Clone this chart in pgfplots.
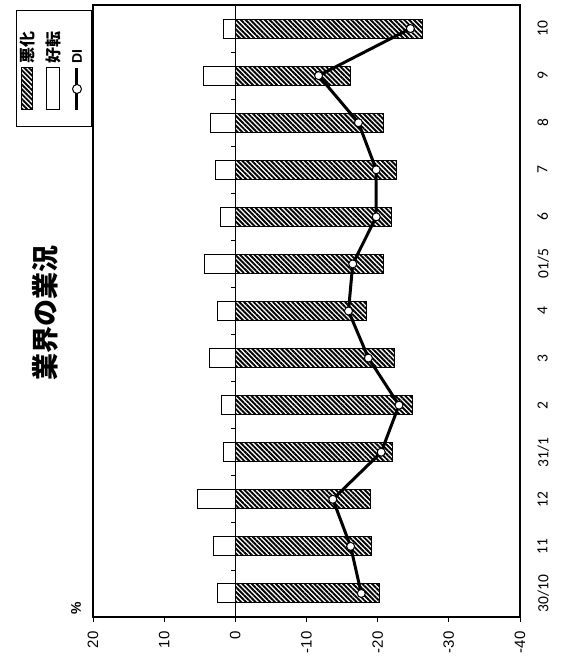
\documentclass[border=0pt]{standalone}
\usepackage{fontspec}
\setmainfont{Liberation Sans}
\newfontfamily\jp{Noto Sans CJK JP}
\newfontfamily\carl{Carlito}
\usepackage{pgfplots}
\pgfplotsset{compat=1.18}
\usepackage{pgfplotstable}
\usetikzlibrary{patterns.meta}

\pgfplotstableread{
idx kouten akka di
0 2.5 -20.2 -17.7
1 3.0 -19.2 -16.2
2 5.3 -19.0 -13.7
3 1.6 -22.1 -20.5
4 1.9 -24.9 -23.0
5 3.6 -22.3 -18.7
6 2.5 -18.4 -15.9
7 4.3 -20.8 -16.5
8 2.1 -21.9 -19.8
9 2.8 -22.6 -19.8
10 3.5 -20.8 -17.3
11 4.5 -16.2 -11.7
12 1.7 -26.3 -24.6
}\data

\tikzset{legtext/.style={rotate=90, anchor=west, inner sep=0pt, font=\jp\bfseries\fontsize{16bp}{16bp}\selectfont}}

\begin{document}
\begin{tikzpicture}
\begin{axis}[
  scale only axis, width=427bp, height=612bp,
  x dir=reverse, xmin=-40, xmax=20,
  ymin=-0.5, ymax=12.5,
  xtick={-40,-30,-20,-10,0,10,20},
  xticklabels={-40,-30,-20,-10,0,10,20},
  xtick pos=bottom, tick align=outside,
  major tick length=5bp,
  x tick style={black, line width=0.8bp},
  ytick={0,...,12},
  yticklabels={30/10,11,12,31/1,2,3,4,01/5,6,7,8,9,10},
  ytick pos=right, y tick style={draw=none},
  xticklabel style={yshift=-6bp, rotate=90, anchor=east, font=\fontsize{15bp}{15bp}\selectfont},
  yticklabel style={xshift=9bp, rotate=90, anchor=north, font=\carl\fontsize{15.5bp}{15.5bp}\selectfont},
  axis line style={black, line width=1.4bp},
  clip=false,
]
\addplot[xbar, bar width=19bp, bar shift=0pt, draw=black, line width=1bp,
  pattern={Lines[angle=-45,distance=3.4bp,line width=1.9bp]}, pattern color=black]
  table[x=akka,y=idx]{\data};
\addplot[xbar, bar width=19bp, bar shift=0pt, draw=black, fill=white, line width=1bp]
  table[x=kouten,y=idx]{\data};
\draw[black, line width=1.4bp] (axis cs:0,-0.5) -- (axis cs:0,12.5);
\draw[black, line width=0.8bp] (axis cs:0,0.5) -- (axis cs:0.56,0.5);
\draw[black, line width=0.8bp] (axis cs:0,1.5) -- (axis cs:0.56,1.5);
\draw[black, line width=0.8bp] (axis cs:0,2.5) -- (axis cs:0.56,2.5);
\draw[black, line width=0.8bp] (axis cs:0,3.5) -- (axis cs:0.56,3.5);
\draw[black, line width=0.8bp] (axis cs:0,4.5) -- (axis cs:0.56,4.5);
\draw[black, line width=0.8bp] (axis cs:0,5.5) -- (axis cs:0.56,5.5);
\draw[black, line width=0.8bp] (axis cs:0,6.5) -- (axis cs:0.56,6.5);
\draw[black, line width=0.8bp] (axis cs:0,7.5) -- (axis cs:0.56,7.5);
\draw[black, line width=0.8bp] (axis cs:0,8.5) -- (axis cs:0.56,8.5);
\draw[black, line width=0.8bp] (axis cs:0,9.5) -- (axis cs:0.56,9.5);
\draw[black, line width=0.8bp] (axis cs:0,10.5) -- (axis cs:0.56,10.5);
\draw[black, line width=0.8bp] (axis cs:0,11.5) -- (axis cs:0.56,11.5);
\addplot[black, line width=3bp, mark=*, mark size=4bp,
  mark options={fill=white, draw=black, line width=1bp}]
  table[x=di,y=idx]{\data};
\coordinate (bl) at (axis cs:20,-0.5);
\coordinate (tr) at (axis cs:-40,12.5);
\end{axis}
% legend (rotated, as in the reference)
\begin{scope}[shift={(bl)}]
  \draw[black, line width=0.8bp, fill=white] (-77bp,491bp) rectangle (-2bp,607bp);
  \draw[black, line width=1bp, pattern={Lines[angle=-45,distance=3.4bp,line width=1.9bp]}, pattern color=black]
    (-71bp,507bp) rectangle (-60bp,549bp);
  \node[legtext] at (-65.5bp,553bp) {悪化};
  \draw[black, line width=1bp, fill=white] (-46bp,507bp) rectangle (-33bp,549bp);
  \node[legtext] at (-39.5bp,553bp) {好転};
  \draw[black, line width=3bp] (-16bp,507bp) -- (-16bp,549bp);
  \draw[black, line width=1bp, fill=white] (-16bp,528bp) circle (4.5bp);
  \node[legtext, font=\fontsize{14bp}{14bp}\selectfont\bfseries] at (-16bp,553bp) {DI};
\end{scope}
\node[rotate=90, font=\jp\bfseries\fontsize{27bp}{27bp}\selectfont] at ([xshift=-48bp,yshift=304bp]bl) {業界の業況};
\node[rotate=90, font=\fontsize{14bp}{14bp}\selectfont\bfseries] at ([xshift=-17bp,yshift=9bp]bl) {\%};
\pgfresetboundingbox
\useasboundingbox ([xshift=-93bp,yshift=-42bp]bl) rectangle ([xshift=56bp,yshift=5bp]tr);
\end{tikzpicture}
\end{document}
